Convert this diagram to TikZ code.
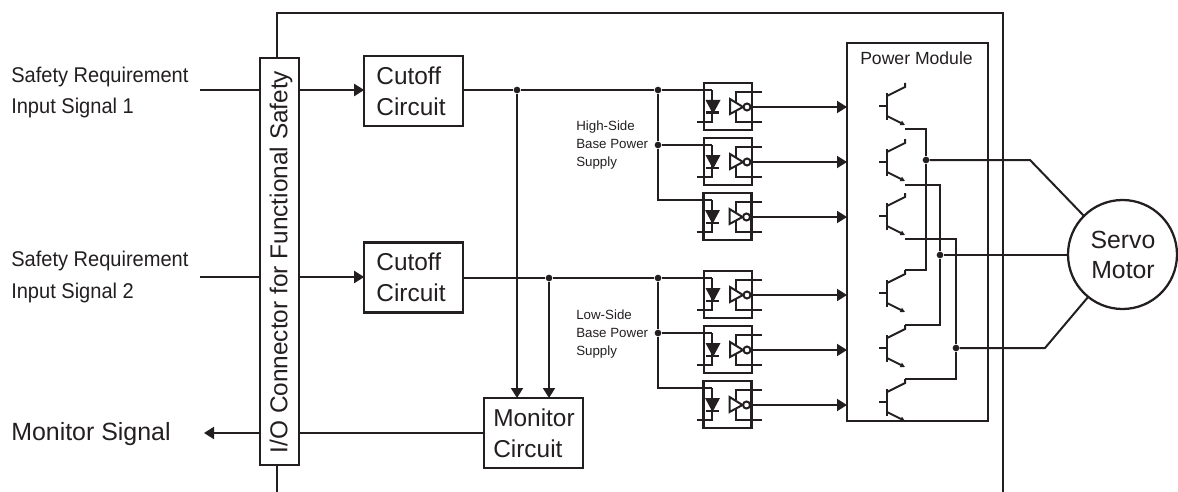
\documentclass[tikz,border=0pt]{standalone}
\usepackage{fontspec}
\setmainfont{Liberation Sans}
\newfontfamily\narrowfont[FakeStretch=0.94]{Liberation Sans}
\usetikzlibrary{arrows.meta}
\definecolor{inkblack}{HTML}{231F20}
\tikzset{
  wire/.style={draw=inkblack, line width=1.5pt},
  feed/.style={wire, -{Triangle[length=7.5pt, width=9pt]}},
  blockbox/.style={draw=inkblack, line width=1.7pt, fill=white, inner sep=0pt, outer sep=0pt},
  circuitbox/.style={blockbox, minimum width=74pt, minimum height=52.5pt},
  junction/.style={circle, fill=inkblack, inner sep=0pt, minimum size=5pt},
  bigtext/.style={text=inkblack, inner sep=0pt, align=left, font=\fontsize{18.3}{23}\selectfont},
  signaltext/.style={text=inkblack, inner sep=0pt, align=left, anchor=west, font=\narrowfont\fontsize{16}{23.3}\selectfont},
  smalltext/.style={text=inkblack, inner sep=0pt, align=left, anchor=west, font=\fontsize{10}{13.6}\selectfont},
  opto/.pic={
    \draw[blockbox, fill=none] (0,0) rectangle (48,47);
    % --- diode side ---
    \draw[wire] (-7,39) -- (8,39) -- (8,7);
    \fill[inkblack] (1.5,17) -- (16.5,17) -- (9,31) -- cycle;
    \draw[wire] (2,29.5) -- (15,29.5);
    % --- inverter side ---
    \draw[wire] (58,9) -- (32,9) -- (32,19);
    \draw[wire] (32,28) -- (32,39) -- (58,39);
    \draw[wire] (26,16) -- (26,31) -- (39,24) -- cycle;
    \draw[wire] (43,24) circle (3.5);
    \coordinate (-in) at (8,7);
    \coordinate (-out) at (47,24);
  },
  igbt/.pic={
    \draw[wire] (-8,0) -- (0,0);
    \draw[wire] (0,-13) -- (0,14);
    \draw[wire] (0,-10) -- (18,-19) -- (18,-23);
    \draw[wire, -{Triangle[length=3.5pt, width=3.5pt]}] (0,10) -- (18,19);
    \coordinate (-c) at (18,-23);
    \coordinate (-e) at (18,23);
  },
}
\begin{document}
\begin{tikzpicture}[x=0.75pt, y=-0.75pt]
  \useasboundingbox (0,0) rectangle (1178,492);

  % --- Drive enclosure ---
  \draw[wire] (277,492) -- (277,13) -- (1003,13) -- (1003,492);

  % --- Blocks ---
  \node[blockbox, minimum width=29.25pt, minimum height=305.25pt] (io) at (279.5,261.5) {};
  \node[bigtext, rotate=90] (iotext) at (281,262) {I/O Connector for Functional Safety};
  \node[circuitbox] (cut1) at (413.5,91) {};
  \node[bigtext] (cut1text) at (411,91) {Cutoff\\Circuit};
  \node[circuitbox] (cut2) at (413.5,277.5) {};
  \node[bigtext] (cut2text) at (411,277.5) {Cutoff\\Circuit};
  \node[circuitbox] (mon) at (533.5,433) {};
  \node[bigtext] (montext) at (534,433) {Monitor\\Circuit};
  \node[blockbox, fill=none, minimum width=105.75pt, minimum height=283.5pt] (pm) at (917.5,232) {};
  \node[text=inkblack, inner sep=0pt, font=\fontsize{13.2}{15}\selectfont] (pmtext) at (916.5,58) {Power Module};
  \node[blockbox, circle, minimum size=81.75pt] (motor) at (1122.5,254.5) {};
  \node[bigtext, align=center, font=\fontsize{18.6}{22.5}\selectfont] (motortext) at (1123,255) {Servo\\Motor};

  % --- Texts on the left and the supply labels ---
  \node[signaltext] (sig1) at (11,92.5) {Safety Requirement\\Input Signal 1};
  \node[signaltext] (sig2) at (11,277) {Safety Requirement\\Input Signal 2};
  \node[signaltext, font=\fontsize{18.7}{22}\selectfont] (monsig) at (11,434) {Monitor Signal};
  \node[smalltext] (hstext) at (576,145) {High-Side\\Base Power\\Supply};
  \node[smalltext] (lstext) at (576,334) {Low-Side\\Base Power\\Supply};

  % --- Input and monitor lines ---
  \coordinate (in1) at (200,90);
  \coordinate (in2) at (200,277);
  \coordinate (monout) at (204,433);
  \draw[wire] (in1) -- (io.west |- in1);
  \draw[feed] (io.east |- in1) -- (cut1.west |- in1);
  \draw[wire] (in2) -- (io.west |- in2);
  \draw[feed] (io.east |- in2) -- (cut2.west |- in2);
  \draw[wire] (mon.west) -- (io.east |- mon.west);
  \draw[feed] (io.west |- mon.west) -- (monout);

  % --- Optocouplers ---
  \pic (hs1) at (704,83) {opto};
  \pic (hs2) at (704,138) {opto};
  \pic (hs3) at (703.5,193) {opto};
  \pic (ls1) at (704,271) {opto};
  \pic (ls2) at (704,326) {opto};
  \pic (ls3) at (703.5,381) {opto};

  % --- Supply rails ---
  \node[junction] (tap1) at (517,90) {};
  \node[junction] (hsa) at (658,90) {};
  \node[junction] (hsb) at (658,145) {};
  \node[junction] (tap2) at (549,278) {};
  \node[junction] (lsa) at (658,278) {};
  \node[junction] (lsb) at (658,333) {};
  \draw[wire] (cut1.east |- tap1) -- (tap1) -- (hsa) -- (hs1-in);
  \draw[wire] (hsa) -- (hsb) -- (hsa |- hs3-in) -- (hs3-in);
  \draw[wire] (hsb) -- (hs2-in);
  \draw[wire] (cut2.east |- tap2) -- (tap2) -- (lsa) -- (ls1-in);
  \draw[wire] (lsa) -- (lsb) -- (lsa |- ls3-in) -- (ls3-in);
  \draw[wire] (lsb) -- (ls2-in);
  \draw[feed] (tap1) -- (tap1 |- mon.north);
  \draw[feed] (tap2) -- (tap2 |- mon.north);

  % --- Optocoupler outputs ---
  \foreach \opt in {hs1,hs2,hs3,ls1,ls2,ls3}
    \draw[feed] (\opt-out) -- (pm.west |- \opt-out);

  % --- Transistors ---
  \pic (t1) at (887,106) {igbt};
  \pic (t2) at (887,162) {igbt};
  \pic (t3) at (887,216) {igbt};
  \pic (t4) at (887,293) {igbt};
  \pic (t5) at (887,348) {igbt};
  \pic (t6) at (887,402) {igbt};

  % --- Phase wiring ---
  \node[junction] (phu) at (926,160) {};
  \node[junction] (phv) at (940,255) {};
  \node[junction] (phw) at (956,348) {};
  \coordinate (bendu) at (1030,160);
  \coordinate (bendw) at (1045,348);
  \draw[wire] (t1-e) -| (phu) -- (phu |- t4-c) -- (t4-c);
  \draw[wire] (t2-e) -| (phv) -- (phv |- t5-c) -- (t5-c);
  \draw[wire] (t3-e) -| (phw) -- (phw |- t6-c) -- (t6-c);
  \draw[wire] (phu) -- (bendu) -- (motor.135);
  \draw[wire] (phv) -- (motor.west |- phv);
  \draw[wire] (phw) -- (bendw) -- (motor.231);
\end{tikzpicture}
\end{document}
